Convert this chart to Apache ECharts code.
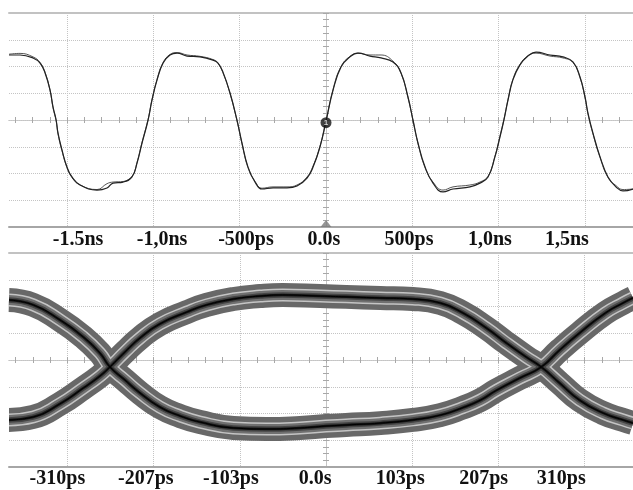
<!DOCTYPE html>
<html>
<head>
<meta charset="utf-8">
<script src="https://cdn.jsdelivr.net/npm/echarts@6/dist/echarts.min.js"></script>
<style>
  html, body { margin: 0; padding: 0; background: #fff; }
  #chart { width: 633px; height: 490px; }
</style>
</head>
<body>
<div id="chart"></div>
<script>
// upper panel: two overlaid acquisitions, time in ps, level in divisions
const waveT = [-1837, -1773, -1698, -1657, -1628, -1599, -1582, -1564, -1553, -1530, -1501, -1472, -1425, -1327, -1269, -1234, -1176, -1124, -1095, -1066, -1031, -1008, -979, -944, -904, -863, -805, -730, -655, -626, -597, -556, -516, -487, -452, -411, -371, -307, -226, -168, -110, -75, -35, 0, 41, 87, 139, 185, 255, 319, 388, 435, 475, 504, 533, 574, 620, 678, 736, 834, 892, 939, 979, 1008, 1031, 1055, 1083, 1124, 1170, 1217, 1298, 1373, 1431, 1472, 1501, 1518, 1547, 1588, 1634, 1680, 1721, 1779];
const waveA = [2.43, 2.43, 2.32, 2.13, 1.76, 1.12, 0.49, 0, -0.49, -1.12, -1.76, -2.13, -2.43, -2.62, -2.54, -2.36, -2.32, -2.13, -1.61, -0.86, 0, 0.75, 1.5, 2.13, 2.43, 2.5, 2.39, 2.36, 2.24, 2.13, 1.79, 1.01, 0, -0.86, -1.76, -2.32, -2.58, -2.54, -2.54, -2.47, -2.17, -1.76, -1.01, -0.05, 1.12, 1.98, 2.36, 2.5, 2.39, 2.32, 2.17, 1.76, 0.86, 0, -0.86, -1.76, -2.36, -2.69, -2.58, -2.5, -2.36, -2.13, -1.38, -0.64, 0, 0.75, 1.5, 2.06, 2.39, 2.54, 2.43, 2.36, 2.17, 1.61, 0.86, 0.26, -0.49, -1.38, -2.13, -2.5, -2.65, -2.58];
const waveB = [2.46, 2.49, 2.36, 2.15, 1.78, 1.1, 0.46, -0.02, -0.52, -1.15, -1.78, -2.15, -2.43, -2.6, -2.38, -2.32, -2.3, -2.1, -1.58, -0.83, 0.02, 0.78, 1.52, 2.15, 2.45, 2.52, 2.43, 2.38, 2.26, 2.13, 1.76, 0.98, -0.02, -0.88, -1.78, -2.3, -2.55, -2.5, -2.5, -2.43, -2.13, -1.72, -0.98, -0.02, 1.15, 2.0, 2.38, 2.5, 2.43, 2.43, 2.2, 1.74, 0.84, -0.02, -0.88, -1.78, -2.32, -2.62, -2.5, -2.43, -2.32, -2.1, -1.35, -0.6, 0.02, 0.78, 1.52, 2.08, 2.4, 2.5, 2.39, 2.32, 2.15, 1.58, 0.83, 0.22, -0.52, -1.4, -2.15, -2.45, -2.6, -2.58];
const trigLevel = -0.1;

// lower panel: eye diagram, one falling-then-rising path and one rising-then-falling path
const eyeFallT = [-380, -351, -319, -291, -271, -259, -241, -223, -199, -175, -151, -111, -71, -31, 0, 24, 65, 104, 137, 164, 185, 204, 232, 258, 280, 304, 335, 356, 368];
const eyeFallV = [2.24, 2.06, 1.5, 0.86, 0.26, -0.26, -0.75, -1.23, -1.76, -2.09, -2.32, -2.54, -2.58, -2.54, -2.47, -2.43, -2.36, -2.24, -2.06, -1.78, -1.5, -1.14, -0.68, -0.26, 0.37, 1.01, 1.76, 2.13, 2.32];
const eyeRiseT = [-380, -351, -319, -291, -271, -259, -241, -223, -199, -167, -143, -111, -79, -52, -7, 24, 65, 104, 137, 164, 192, 216, 240, 258, 280, 304, 332, 356, 368];
const eyeRiseV = [-2.24, -2.13, -1.64, -1.05, -0.6, -0.26, 0.3, 0.82, 1.35, 1.79, 2.06, 2.28, 2.39, 2.43, 2.39, 2.36, 2.32, 2.28, 2.13, 1.76, 1.2, 0.64, 0.11, -0.26, -0.86, -1.5, -1.98, -2.24, -2.36];

// axes
const topRange = [-1837, 1779];
const topGridAt = [-1500, -1000, -500, 0, 500, 1000, 1500];
const topLabels = ['-1.5ns', '-1,0ns', '-500ps', '0.0s', '500ps', '1,0ns', '1,5ns'];
const topLabelAt = [-1437, -950, -464, -12, 481, 950, 1396];
const eyeRange = [-380, 368];
const eyeGridAt = [-310, -206.67, -103.33, 0, 103.33, 206.67, 310];
const eyeLabels = ['-310ps', '-207ps', '-103ps', '0.0s', '103ps', '207ps', '310ps'];
const eyeLabelAt = [-322, -216, -114, -13, 89, 189, 282];

const GRID = '#c4c4c4';
const TICK = '#a8a8a8';

function steps(from, to, step) {
  const out = [];
  for (let v = from; v <= to + 1e-9; v += step) out.push(+v.toFixed(3));
  return out;
}

function panelAxes(gi, range, gridAt, labelAt, labels, xStep, margin) {
  const b = gi * 4, c = gi * 3;
  const xMinor = steps(Math.ceil(range[0] / xStep) * xStep, range[1], xStep);
  const yMinor = steps(-4, 4, 0.25);
  const xBase = { type: 'value', gridIndex: gi, min: range[0], max: range[1], axisLabel: { show: false }, splitLine: { show: false }, axisTick: { show: false } };
  const yBase = { type: 'value', gridIndex: gi, min: -4, max: 4, axisLabel: { show: false }, splitLine: { show: false }, axisTick: { show: false } };
  const xAxes = [
    { ...xBase, position: 'bottom',
      axisLine: { onZero: false, lineStyle: { color: '#a6a6a6', width: 2 } },
      axisTick: { show: false, customValues: gridAt },
      splitLine: { show: true, lineStyle: { color: GRID, width: 1, type: [1, 1] } },
      axisLabel: {
        show: true, customValues: labelAt, margin,
        formatter: (v) => labels[labelAt.indexOf(v)] ?? '',
        fontFamily: 'Liberation Serif', fontWeight: 'bold', fontSize: 20, color: '#111'
      } },
    { ...xBase, position: 'bottom',
      axisLine: { onZero: true, onZeroAxisIndex: c + 0, lineStyle: { color: GRID, type: [1, 1] } },
      axisTick: { show: true, customValues: xMinor, length: 3, lineStyle: { color: TICK } } },
    { ...xBase, position: 'top',
      axisLine: { onZero: true, onZeroAxisIndex: c + 1, lineStyle: { color: GRID, type: [1, 1] } },
      axisTick: { show: true, customValues: xMinor, length: 3, lineStyle: { color: TICK } } },
    { ...xBase, position: 'top',
      axisLine: { onZero: false, lineStyle: { color: '#c2c2c2', width: 2 } } }
  ];
  const yAxes = [
    { ...yBase, interval: 1, axisLine: { show: false, onZero: false },
      splitLine: { show: true, lineStyle: { color: GRID, width: 1, type: [1, 1] } } },
    { ...yBase, position: 'left',
      axisLine: { onZero: true, onZeroAxisIndex: b + 0, lineStyle: { color: GRID, type: [1, 1] } },
      axisTick: { show: true, customValues: yMinor, length: 3, lineStyle: { color: TICK } } },
    { ...yBase, position: 'right',
      axisLine: { onZero: true, onZeroAxisIndex: b + 3, lineStyle: { color: GRID, type: [1, 1] } },
      axisTick: { show: true, customValues: yMinor, length: 3, lineStyle: { color: TICK } } }
  ];
  return { xAxes, yAxes };
}

const p0 = panelAxes(0, topRange, topGridAt, topLabelAt, topLabels, 100, 3);
const p1 = panelAxes(1, eyeRange, eyeGridAt, eyeLabelAt, eyeLabels, 103.333 / 5, 2);

const zip = (t, v) => t.map((x, i) => [x, v[i]]);

const trace = (data, color, width) => ({
  type: 'line', xAxisIndex: 0, yAxisIndex: 0, data, showSymbol: false, symbol: 'none',
  smooth: 0.45, lineStyle: { color, width }, z: 5, silent: true
});

// density band of the eye: drawn as stacked strokes, widest first
const bandLayers = [
  { color: '#686868', width: 24 },
  { color: '#c4c4c4', width: 13 },
  { color: '#707070', width: 10 },
  { color: '#454545', width: 5.5 },
  { color: '#161616', width: 2.5 },
  { color: '#000000', width: 1 }
];
const eyeSeries = [];
bandLayers.forEach((layer, k) => {
  [zip(eyeFallT, eyeFallV), zip(eyeRiseT, eyeRiseV)].forEach((data) => {
    eyeSeries.push({
      type: 'line', xAxisIndex: 4, yAxisIndex: 3, data, showSymbol: false, symbol: 'none',
      smooth: 0.5, silent: true, z: 5 + k,
      lineStyle: { color: layer.color, width: layer.width, cap: 'butt', join: 'round' }
    });
  });
});

const chart = echarts.init(document.getElementById('chart'), null, { renderer: 'canvas' });
chart.setOption({
  animation: false,
  backgroundColor: '#fff',
  grid: [
    { left: 9, right: 0, top: 13, height: 214 },
    { left: 9, right: 0, top: 253, height: 214 }
  ],
  xAxis: [...p0.xAxes, ...p1.xAxes],
  yAxis: [...p0.yAxes, ...p1.yAxes],
  series: [
    trace(zip(waveT, waveB), '#555', 1),
    trace(zip(waveT, waveA), '#222', 1.2),
    {
      type: 'scatter', xAxisIndex: 0, yAxisIndex: 0, data: [[0, trigLevel]],
      symbolSize: 11, itemStyle: { color: '#111' }, z: 10, silent: true,
      label: { show: true, position: 'inside', formatter: '1', color: '#fff', fontSize: 8, fontWeight: 'bold' }
    },
    {
      type: 'scatter', xAxisIndex: 0, yAxisIndex: 0, data: [[0, -4]], clip: false,
      symbol: 'triangle', symbolSize: [11, 7], symbolOffset: [0, -3.5],
      itemStyle: { color: '#7a7a7a' }, z: 10, silent: true
    },
    ...eyeSeries
  ]
});
</script>
</body>
</html>
